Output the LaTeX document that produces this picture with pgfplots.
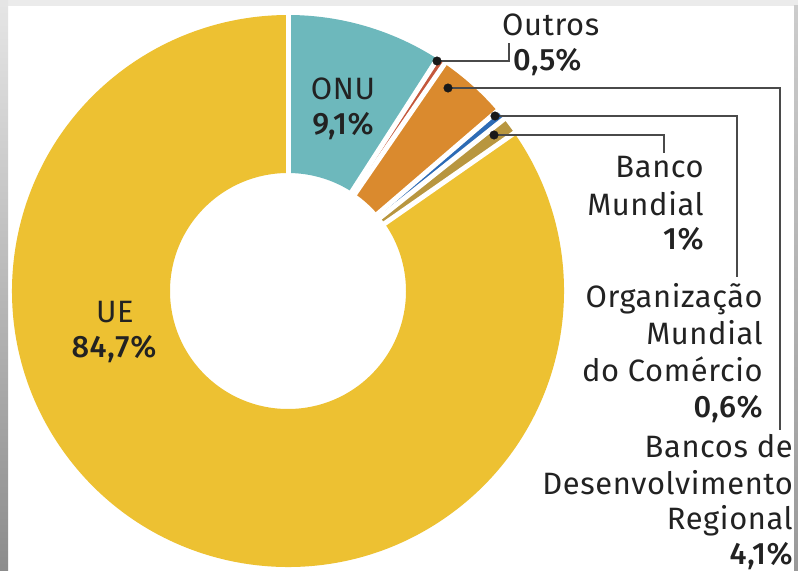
\documentclass[border=0pt]{standalone}
\usepackage{pgfplots}
\pgfplotsset{compat=1.18}
\usepackage{pgfplotstable}
\usepackage{fontspec}
\setmainfont{Fira Sans}[LetterSpace=2, BoldFont={Fira Sans Medium}]
\definecolor{cUE}{HTML}{EDC132}
\definecolor{cONU}{HTML}{6DB8BC}
\definecolor{cOut}{HTML}{C4573C}
\definecolor{cBDR}{HTML}{DA8A2E}
\definecolor{cOMC}{HTML}{2D6BB5}
\definecolor{cBM}{HTML}{B8963F}
\definecolor{txt}{HTML}{222222}
\definecolor{lead}{HTML}{4A4A4A}
\pgfplotstableread{
label value color
ONU 9.1 cONU
Outros 0.5 cOut
BDR 4.1 cBDR
OMC 0.6 cOMC
BM 1.0 cBM
UE 84.7 cUE
}\shares
\newcommand{\lbl}{\fontsize{31}{37}\selectfont}
\begin{document}
\begin{tikzpicture}
\useasboundingbox (0,0) rectangle (798bp,571bp);
\begin{axis}[at={(0,0)}, anchor=south west, scale only axis,
  width=798bp, height=571bp, xmin=0, xmax=798, ymin=0, ymax=571,
  y dir=reverse, hide axis, clip=false]
% background / frame
\fill[white] (axis cs:0,0) rectangle (axis cs:798,571);
\fill[black!8] (axis cs:0,0) rectangle (axis cs:798,6);
\shade[top color=black!10, bottom color=black!45] (axis cs:0,0) rectangle (axis cs:8,571);
\shade[top color=black!20, bottom color=black!40] (axis cs:794,6) rectangle (axis cs:798,571);
% donut sectors
\def\acc{90}
\pgfplotsforeachungrouped \i in {0,...,5}{%
  \pgfplotstablegetelem{\i}{value}\of\shares \let\v\pgfplotsretval
  \pgfplotstablegetelem{\i}{color}\of\shares \let\c\pgfplotsretval
  \pgfmathsetmacro\aA{\acc}%
  \pgfmathsetmacro\aB{\acc-3.6*\v}%
  \pgfmathsetmacro\xA{288+276*cos(\aA)}%
  \pgfmathsetmacro\yA{291-276*sin(\aA)}%
  \pgfmathsetmacro\xB{288+118*cos(\aB)}%
  \pgfmathsetmacro\yB{291-118*sin(\aB)}%
  \edef\tmp{\noexpand\fill[\c] (axis cs:\xA,\yA) arc[start angle=\aA, end angle=\aB, radius=276bp] -- (axis cs:\xB,\yB) arc[start angle=\aB, end angle=\aA, radius=118bp] -- cycle;}%
  \tmp
  \let\acc\aB
}
% white gaps between sectors
\def\acc{90}
\pgfplotsforeachungrouped \i in {0,...,5}{%
  \pgfplotstablegetelem{\i}{value}\of\shares \let\v\pgfplotsretval
  \pgfmathsetmacro\xA{288+282*cos(\acc)}%
  \pgfmathsetmacro\yA{291-282*sin(\acc)}%
  \edef\tmp{\noexpand\draw[white, line width=5bp] (axis cs:288,291) -- (axis cs:\xA,\yA);}%
  \tmp
  \pgfmathsetmacro\acc{\acc-3.6*\v}%
}
% leader lines
\draw[lead, line width=1.6bp] (axis cs:437,61) -- (axis cs:509,61) -- (axis cs:509,43);
\draw[lead, line width=1.6bp] (axis cs:448,88) -- (axis cs:780,88) -- (axis cs:780,430);
\draw[lead, line width=1.6bp] (axis cs:495,116) -- (axis cs:737,116) -- (axis cs:737,277);
\draw[lead, line width=1.6bp] (axis cs:494,135) -- (axis cs:664,135) -- (axis cs:664,153);
\addplot[only marks, mark=*, mark size=4.3, color=black!90] coordinates {(437,61) (448,88) (495,116) (494,135)};
% labels
\node[txt, anchor=base, font=\lbl] at (axis cs:343,99) {ONU};
\node[txt, anchor=base, font=\lbl\bfseries] at (axis cs:343,134) {9,1\%};
\node[txt, anchor=base, font=\lbl] at (axis cs:115,322) {UE};
\node[txt, anchor=base, font=\lbl\bfseries] at (axis cs:114,357) {84,7\%};
\node[txt, anchor=base west, font=\lbl, inner sep=0] at (axis cs:502,35) {Outros};
\node[txt, anchor=base west, font=\lbl\bfseries, inner sep=0] at (axis cs:513,70) {0,5\%};
\node[txt, anchor=base east, font=\lbl, inner sep=0] at (axis cs:704,177) {Banco};
\node[txt, anchor=base east, font=\lbl, inner sep=0] at (axis cs:704,215) {Mundial};
\node[txt, anchor=base east, font=\lbl\bfseries, inner sep=0] at (axis cs:704,249) {1\%};
\node[txt, anchor=base east, font=\lbl, inner sep=0] at (axis cs:763,307) {Organização};
\node[txt, anchor=base east, font=\lbl, inner sep=0] at (axis cs:763,344) {Mundial};
\node[txt, anchor=base east, font=\lbl, inner sep=0] at (axis cs:763,381) {do Comércio};
\node[txt, anchor=base east, font=\lbl\bfseries, inner sep=0] at (axis cs:763,417) {0,6\%};
\node[txt, anchor=base east, font=\lbl, inner sep=0] at (axis cs:793,457) {Bancos de};
\node[txt, anchor=base east, font=\lbl, inner sep=0] at (axis cs:793,494) {Desenvolvimento};
\node[txt, anchor=base east, font=\lbl, inner sep=0] at (axis cs:793,529) {Regional};
\node[txt, anchor=base east, font=\lbl\bfseries, inner sep=0] at (axis cs:793,564) {4,1\%};
\end{axis}
\end{tikzpicture}
\end{document}
